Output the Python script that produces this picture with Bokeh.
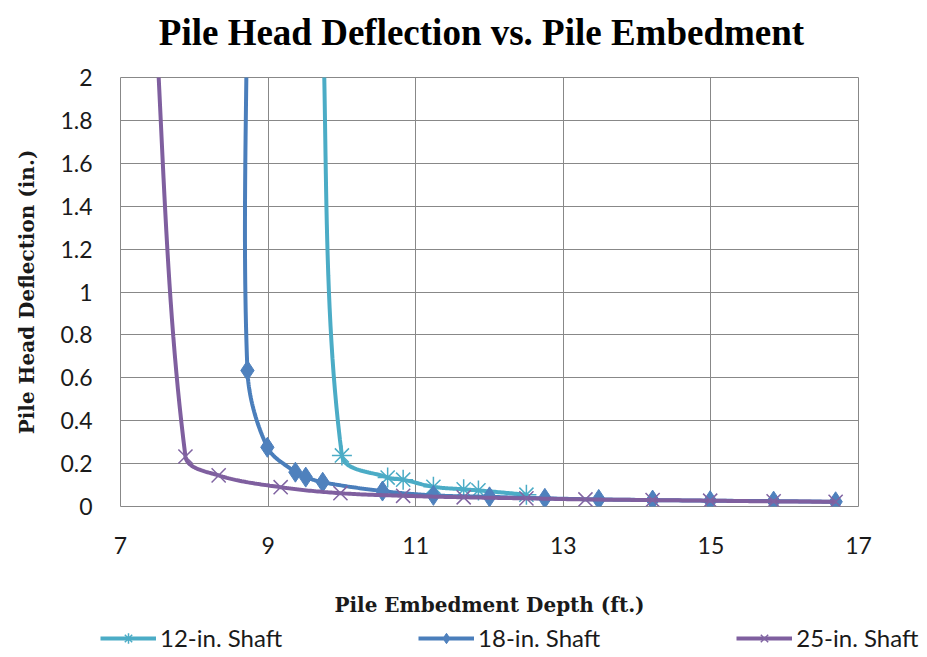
import numpy as np
from bokeh.plotting import figure
from bokeh.layouts import column
from bokeh.models import Range1d, FixedTicker, Legend, LegendItem, Label
from bokeh.embed import file_html
from bokeh.resources import INLINE

# ---- data ----
title_text = "Pile Head Deflection vs. Pile Embedment"
x_label = "Pile Embedment Depth (ft.)"
y_label = "Pile Head Deflection (in.)"

x_ticks = [7, 9, 11, 13, 15, 17]
y_ticks = [0, 0.2, 0.4, 0.6, 0.8, 1, 1.2, 1.4, 1.6, 1.8, 2]
y_tick_labels = ["0", "0.2", "0.4", "0.6", "0.8", "1", "1.2", "1.4", "1.6", "1.8", "2"]

x12 = [9.72, 10.00, 10.62, 10.83, 11.24, 11.65, 11.85, 12.50]
y12 = [2.50, 0.238, 0.135, 0.125, 0.092, 0.080, 0.075, 0.055]

x18 = [8.72, 8.72, 8.99, 9.37, 9.51, 9.74, 10.55, 11.24, 12.00, 12.75, 13.48, 14.21, 14.99, 15.85, 16.69]
y18 = [2.60, 0.634, 0.276, 0.160, 0.137, 0.113, 0.072, 0.052, 0.045, 0.038, 0.033, 0.030, 0.027, 0.025, 0.022]

x25 = [7.42, 7.88, 8.33, 9.17, 9.98, 10.83, 11.65, 12.50, 13.30, 14.21, 14.99, 15.85, 16.69]
y25 = [2.60, 0.233, 0.145, 0.090, 0.062, 0.050, 0.043, 0.038, 0.033, 0.030, 0.027, 0.024, 0.022]

names = ["12-in. Shaft", "18-in. Shaft", "25-in. Shaft"]
markers = ["asterisk", "diamond", "x"]
line_colors = ["#4BACC6", "#4A7EBB", "#7F5F9F"]
marker_colors = ["#4BACC6", "#4F81BD", "#8064A2"]

W = 927
HEADER_H, LEGEND_H = 45, 34
MAIN_H = 657 - HEADER_H - LEGEND_H
FRAME_L, FRAME_T = 120, 77
FRAME_W, FRAME_H = 738, 429
PX_X = FRAME_W / (x_ticks[-1] - x_ticks[0])
PX_Y = FRAME_H / (y_ticks[-1] - y_ticks[0])


def smooth(xs, ys, n=30, s=1.0 / 3.0):
    """Excel-like smoothed line: Bezier through the data points with
    length-weighted tangents (measured in screen pixels)."""
    P = np.column_stack([xs, ys]).astype(float)
    scale = np.array([PX_X, PX_Y])
    dist = lambda a, b: float(np.hypot(*((b - a) * scale)))
    outx, outy = [], []
    for i in range(len(P) - 1):
        p1, p2 = P[i], P[i + 1]
        p0 = P[i - 1] if i > 0 else P[i]
        p3 = P[i + 2] if i + 2 < len(P) else P[i + 1]
        d01, d12, d23 = dist(p0, p1), dist(p1, p2), dist(p2, p3)
        c1 = p1 + (p2 - p0) * s * d12 / max(d01 + d12, 1e-9)
        c2 = p2 - (p3 - p1) * s * d12 / max(d12 + d23, 1e-9)
        t = np.linspace(0, 1, n)[:, None]
        b = ((1 - t) ** 3) * p1 + 3 * ((1 - t) ** 2) * t * c1 + 3 * (1 - t) * t ** 2 * c2 + t ** 3 * p2
        outx.extend(b[:, 0].tolist())
        outy.extend(b[:, 1].tolist())
    return outx, outy


def blank_figure(h):
    f = figure(width=W, height=h, output_backend="svg", toolbar_location=None,
               x_range=Range1d(0, 1), y_range=Range1d(0, 1),
               x_axis_type=None, y_axis_type=None,
               min_border_left=0, min_border_right=0, min_border_top=0, min_border_bottom=0)
    f.outline_line_color = None
    f.background_fill_color = "white"
    f.border_fill_color = "white"
    return f


# ---- header with the title (its frame is aligned with the chart frame) ----
header = blank_figure(HEADER_H)
header.add_layout(Label(x=481 - FRAME_L, y=13, x_units="screen", y_units="screen", text=title_text,
                        text_font="Liberation Serif", text_font_size="37px",
                        text_font_style="bold", text_color="black",
                        text_align="center", text_baseline="alphabetic"))

# ---- main chart ----
p = figure(width=W, height=MAIN_H, output_backend="svg", toolbar_location=None,
           x_range=Range1d(7, 17), y_range=Range1d(0, 2),
           min_border_left=FRAME_L, min_border_right=W - FRAME_L - FRAME_W,
           min_border_top=FRAME_T - HEADER_H,
           min_border_bottom=MAIN_H - (FRAME_T - HEADER_H) - FRAME_H)

p.background_fill_color = "white"
p.border_fill_color = "white"
p.outline_line_color = "#888888"
p.outline_line_width = 1

for ax in (p.xaxis[0], p.yaxis[0]):
    ax.axis_line_color = None
    ax.major_tick_line_color = None
    ax.minor_tick_line_color = None
    ax.major_tick_out = 0
    ax.major_tick_in = 0
    ax.major_label_text_font = "Lato"
    ax.major_label_text_font_size = "23px"
    ax.major_label_text_color = "#1a1a1a"
    ax.axis_label_text_font = "DejaVu Serif"
    ax.axis_label_text_font_size = "20px"
    ax.axis_label_text_font_style = "bold"
    ax.axis_label_text_color = "#1a1a1a"

p.xaxis.ticker = FixedTicker(ticks=x_ticks)
p.yaxis.ticker = FixedTicker(ticks=y_ticks)
p.yaxis.major_label_overrides = {t: l for t, l in zip(y_ticks, y_tick_labels)}
p.xaxis.axis_label = x_label
p.yaxis.axis_label = y_label
p.xaxis.major_label_standoff = 30
p.xaxis.axis_label_standoff = 36
p.yaxis.major_label_standoff = 28
p.yaxis.axis_label_standoff = 18

p.xgrid.ticker = FixedTicker(ticks=x_ticks)
p.ygrid.ticker = FixedTicker(ticks=y_ticks)
p.grid.grid_line_color = "#888888"
p.grid.grid_line_width = 1

series = [(x12, y12), (x18, y18), (x25, y25)]
for (xs, ys), mk, lc, mc in zip(series, markers, line_colors, marker_colors):
    sx, sy = smooth(xs, ys)
    p.line(sx, sy, line_color=lc, line_width=4)
    if mk == "diamond":
        p.scatter(xs, ys, marker=mk, size=20, fill_color=mc, line_color=mc, line_width=1)
    else:
        p.scatter(xs, ys, marker=mk, size=20, line_color=mc, line_width=1.5)

# ---- legend strip below the chart (series drawn off-range: only the legend shows) ----
legfig = blank_figure(LEGEND_H)
items = []
for (xs, ys), name, mk, lc, mc in zip(series, names, markers, line_colors, marker_colors):
    rl = legfig.line(xs, ys, line_color=lc, line_width=4)
    if mk == "diamond":
        rm = legfig.scatter(xs, ys, marker=mk, size=18, fill_color=mc, line_color=mc)
    else:
        rm = legfig.scatter(xs, ys, marker=mk, size=17, line_color=mc, line_width=1.5)
    items.append(LegendItem(label=name, renderers=[rl, rm]))

legend = Legend(items=items, location=(100, 5), orientation="horizontal",
                border_line_color=None, background_fill_alpha=0,
                padding=0, margin=0, spacing=136,
                glyph_width=56, glyph_height=26, label_standoff=4, label_width=120,
                label_text_font="Lato", label_text_font_size="24px",
                label_text_color="#1a1a1a", label_text_baseline="middle")
legfig.add_layout(legend)

layout = column(column(header, p, spacing=0), legfig, spacing=0)
open("out.html", "w").write(file_html(layout, INLINE))
